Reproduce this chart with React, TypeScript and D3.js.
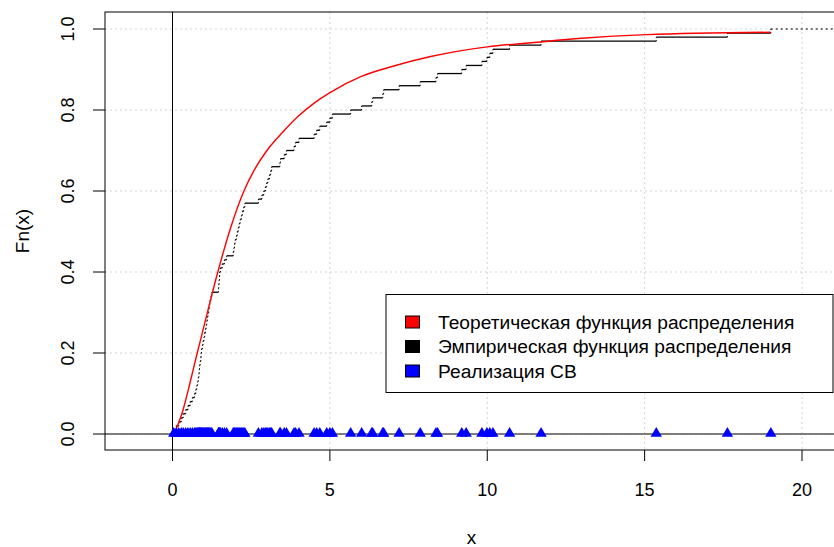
import React from 'react';
import * as d3 from 'd3';

const sampleValues = [
  0.04, 0.12, 0.20, 0.28, 0.34, 0.42, 0.49, 0.56, 0.63, 0.70,
  0.74, 0.77, 0.80, 0.82, 0.84, 0.85, 0.86, 0.88, 0.90, 0.91,
  0.92, 0.95, 0.97, 1.00, 1.02, 1.05, 1.07, 1.09, 1.11, 1.13,
  1.15, 1.17, 1.19, 1.22, 1.25, 1.46, 1.47, 1.48, 1.49, 1.50,
  1.52, 1.58, 1.65, 1.72, 1.93, 1.95, 1.97, 1.99, 2.03, 2.06,
  2.09, 2.12, 2.15, 2.19, 2.22, 2.26, 2.30, 2.73, 2.84, 2.90,
  2.95, 2.99, 3.03, 3.08, 3.12, 3.15, 3.41, 3.43, 3.55, 3.62,
  3.86, 3.91, 4.02, 4.50, 4.58, 4.68, 4.90, 5.00, 5.08, 5.66,
  6.01, 6.33, 6.36, 6.68, 6.71, 7.20, 7.87, 8.37, 8.42, 9.19,
  9.33, 9.83, 9.99, 10.08, 10.18, 10.71, 11.71, 15.37, 17.63, 19.01,
];

// theoretical cdf, points
const theoryX = [0.08, 0.33, 0.55, 0.76, 0.97, 1.44, 1.85, 2.27, 2.6, 3.0, 3.5, 4.0, 4.5, 5.0, 6.0, 7.0, 8.2, 10.0, 11.4, 13.0, 15.07, 19.0];
const theoryF = [0.005, 0.058, 0.124, 0.192, 0.257, 0.40, 0.51, 0.60, 0.652, 0.70, 0.745, 0.785, 0.817, 0.843, 0.883, 0.908, 0.932, 0.956, 0.966, 0.977, 0.986, 0.992];

const xTicks = [0, 5, 10, 15, 20];
const yTicks = [0, 0.2, 0.4, 0.6, 0.8, 1.0];
const yTickLabels = ['0.0', '0.2', '0.4', '0.6', '0.8', '1.0'];

const legendLabels = [
  'Теоретическая функция распределения',
  'Эмпирическая функция распределения',
  'Реализация СВ',
];
const legendColors = ['#ff0000', '#000000', '#0000ff'];

const W = 834;
const H = 547;
const box = { left: 105, top: 12, right: 838, bottom: 450 };
const font = '"Liberation Sans", Arial, sans-serif';

const x = d3.scaleLinear().domain([0, 20]).range([172.5, 802]);
const y = d3.scaleLinear().domain([0, 1]).range([434, 29]);

const App = () => {
  const n = sampleValues.length;
  const xMin = x.invert(box.left);
  const xMax = x.invert(box.right);

  // ecdf pieces
  const horiz = sampleValues.map((v, i) => ({
    x0: v,
    x1: i < n - 1 ? sampleValues[i + 1] : v,
    f: (i + 1) / n,
  }));
  const verts = sampleValues.map((v, i) => ({ x: v, f0: i / n, f1: (i + 1) / n }));

  const theory = theoryX.map((v, i) => [v, theoryF[i]] as [number, number]);
  const line = d3.line<[number, number]>()
    .x(d => x(d[0]))
    .y(d => y(d[1]))
    .curve(d3.curveMonotoneX);

  const tri = d3.symbol().type(d3.symbolTriangle).size(56)();

  return (
    <svg width={W} height={H} style={{ position: 'absolute', left: 0, top: 0, background: '#fff' }}
      fontFamily={font}>
      <defs>
        <clipPath id="plotclip">
          <rect x={box.left} y={box.top} width={box.right - box.left} height={box.bottom - box.top} />
        </clipPath>
      </defs>

      <g clipPath="url(#plotclip)">
        {/* grid */}
        {xTicks.map(t => (
          <line key={'gx' + t} x1={x(t)} x2={x(t)} y1={box.top} y2={box.bottom}
            stroke="#d3d3d3" strokeDasharray="2,3" />
        ))}
        {yTicks.map(t => (
          <line key={'gy' + t} x1={box.left} x2={box.right} y1={y(t)} y2={y(t)}
            stroke="#d3d3d3" strokeDasharray="2,3" />
        ))}

        {/* ecdf */}
        {horiz.slice(0, n - 1).map((h, i) => (
          <line key={'h' + i} x1={x(h.x0)} x2={x(h.x1)} y1={y(h.f)} y2={y(h.f)}
            stroke="#000" strokeWidth={1.3} />
        ))}
        {verts.map((v, i) => (
          <line key={'v' + i} x1={x(v.x)} x2={x(v.x)} y1={y(v.f0)} y2={y(v.f1)}
            stroke="#000" strokeDasharray="1,2" />
        ))}
        <line x1={x(sampleValues[n - 1])} x2={x(xMax)} y1={y(1)} y2={y(1)}
          stroke="#000" strokeDasharray="2,3" />

        {/* reference lines */}
        <line x1={x(xMin)} x2={x(xMax)} y1={y(0)} y2={y(0)} stroke="#555" strokeWidth={1.5} />
        <line x1={x(0)} x2={x(0)} y1={box.top} y2={box.bottom} stroke="#000" strokeWidth={1} />

        {/* theoretical cdf */}
        <path d={line(theory) || ''} fill="none" stroke="#ff0000" strokeWidth={1.4} />

        {/* sample points */}
        {sampleValues.map((v, i) => (
          <path key={'p' + i} d={tri || ''} transform={`translate(${x(v)},${y(0) - 0.5})`} fill="#0000ff" />
        ))}
      </g>

      {/* box */}
      <rect x={box.left} y={box.top} width={box.right - box.left} height={box.bottom - box.top}
        fill="none" stroke="#000" strokeWidth={1} />

      {/* x axis */}
      {xTicks.map(t => (
        <g key={'xt' + t}>
          <line x1={x(t)} x2={x(t)} y1={box.bottom} y2={box.bottom + 11} stroke="#000" />
          <text x={x(t)} y={490} textAnchor="middle" dominantBaseline="central" fontSize={18}>{t}</text>
        </g>
      ))}
      <text x={(box.left + box.right) / 2} y={537} textAnchor="middle" dominantBaseline="central" fontSize={19}>x</text>

      {/* y axis */}
      {yTicks.map((t, i) => (
        <g key={'yt' + t}>
          <line x1={box.left - 12} x2={box.left} y1={y(t)} y2={y(t)} stroke="#000" />
          <text transform={`translate(68,${y(t)}) rotate(-90)`} textAnchor="middle" dominantBaseline="central"
            fontSize={18}>{yTickLabels[i]}</text>
        </g>
      ))}
      <text transform={`translate(22,${(box.top + box.bottom) / 2}) rotate(-90)`} textAnchor="middle"
        dominantBaseline="central" fontSize={19}>Fn(x)</text>

      {/* legend */}
      <rect x={386} y={294.5} width={447} height={98} fill="#fff" stroke="#000" strokeWidth={1} />
      {legendLabels.map((lab, i) => (
        <g key={'lg' + i}>
          <rect x={405.5} y={316 + i * 24.5} width={14} height={12} fill={legendColors[i]} stroke="#000" />
          <text x={438} y={322 + i * 24.5} dominantBaseline="central" fontSize={19.2}>{lab}</text>
        </g>
      ))}
    </svg>
  );
};

export default App;
